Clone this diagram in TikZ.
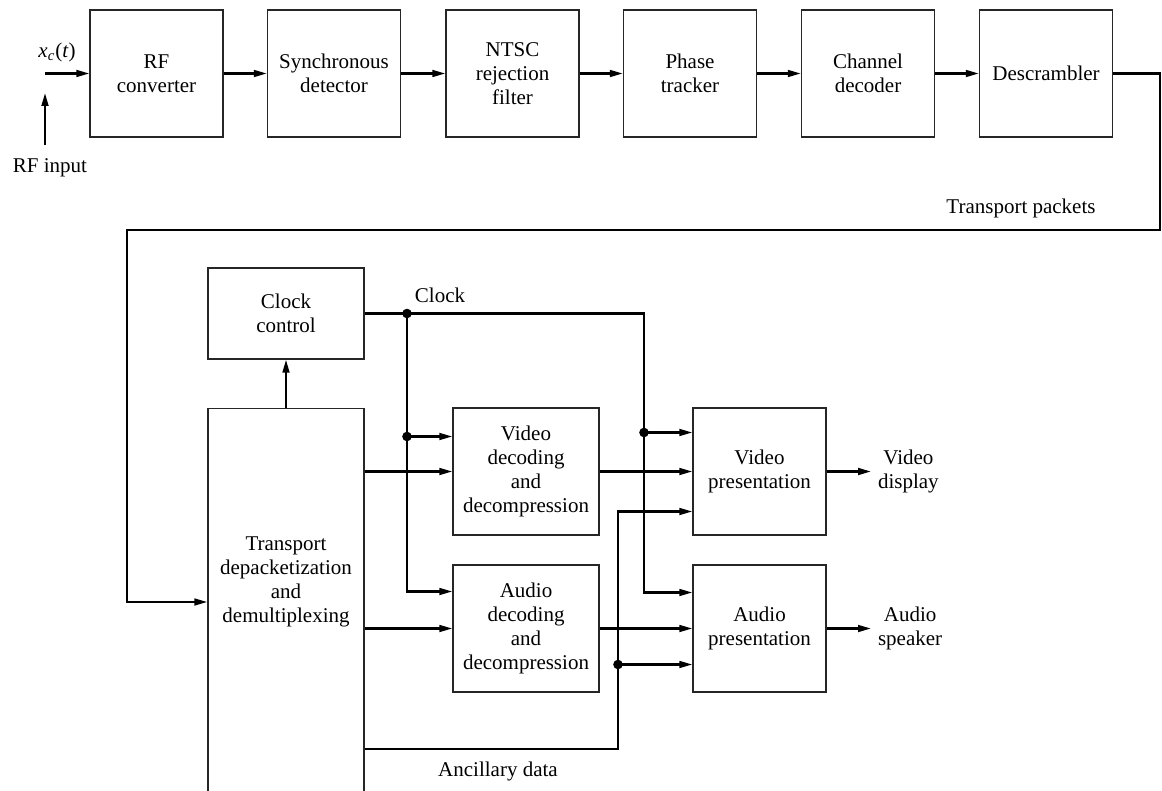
\documentclass[tikz,border=0pt]{standalone}
\usepackage{fontspec}
\setmainfont{Liberation Serif}
\usetikzlibrary{arrows.meta,calc}

\tikzset{
  blk/.style={draw=black!85, line width=0.7pt, minimum width=66.5pt, minimum height=63.5pt, align=center},
  arr/.style={line width=1.1pt, -{Triangle[length=6.5pt,width=3.4pt]}},
  ln/.style={line width=1.1pt},
  lbl/.style={align=center}
}

\begin{document}
\begin{tikzpicture}[x=0.5pt,y=-0.5pt,font=\fontsize{10.5}{12}\selectfont]
  \clip (0,0) rectangle (1162,791);
  % receiver front end
  \foreach \nm/\x/\txt in {rf/156.5/{RF\\converter},sync/334/{Synchronous\\detector},ntsc/512.5/{NTSC\\rejection\\filter},phase/690/{Phase\\tracker},chan/868/{Channel\\decoder},desc/1046/{Descrambler}}
    \node[blk] (\nm) at (\x,73.5) {\txt};
  \foreach \a/\b in {rf/sync,sync/ntsc,ntsc/phase,phase/chan,chan/desc}
    \draw[arr] (\a) -- (\b);
  \coordinate (xin) at (45,73.5);
  \coordinate (rftip) at (45,93);
  \node[lbl] (xc) at (57,52) {\textit{x}\textsubscript{\textit{c}}(\textit{t})};
  \node[lbl] (rfin) at (50,168) {RF input};
  \draw[arr] (xin) -- (rf.west);
  \draw[arr] (rftip |- rfin.north) ++(0,-7) -- (rftip);
  % transport packets
  \coordinate (tp1) at (1160,230);
  \coordinate (tp2) at (127,602);
  \node[lbl] (tplbl) at (1021,208) {Transport packets};
  % back end
  \node[blk, minimum width=78pt, minimum height=45.5pt] (clk) at (286,313.5) {Clock\\control};
  \node[blk, minimum width=78pt, minimum height=250pt, anchor=north] (tdm) at (286,408) {};
  \node[lbl] (tdmtxt) at (286,582) {Transport\\depacketization\\and\\demultiplexing};
  \node[blk, minimum width=73pt] (vdec) at (526,471.5) {Video\\decoding\\and\\decompression};
  \node[blk, minimum width=73pt] (adec) at (526,628.5) {Audio\\decoding\\and\\decompression};
  \node[blk] (vpres) at (759.5,471.5) {Video\\presentation};
  \node[blk] (apres) at (759.5,628.5) {Audio\\presentation};
  \node[lbl, anchor=west] (vdisp) at (871,471.5) {Video\\display};
  \node[lbl, anchor=west] (aspk) at (871,628.5) {Audio\\speaker};
  \node[lbl] (cklbl) at (440,295) {Clock};
  \node[lbl] (anclbl) at (498,771) {Ancillary data};
  \coordinate (ck1) at (407,313.5);
  \coordinate (ck2) at (644,313.5);
  \coordinate (anc) at (618,749);
  \coordinate (vdecck) at ($(vdec.west)+(0,-35)$);
  \coordinate (vpresck) at ($(vpres.west)+(0,-39)$);
  \coordinate (vpresanc) at ($(vpres.west)+(0,40)$);
  \coordinate (adecck) at ($(adec.west)+(0,-37)$);
  \coordinate (apresck) at ($(apres.west)+(0,-36)$);
  \coordinate (apresanc) at ($(apres.west)+(0,36)$);

  \draw[arr] (desc.east) -| (tp1) -| (tp2) -- (tp2 -| tdm.west);
  \draw[arr] (tdm.north) -- (clk.south);
  \draw[arr] (clk.east) -- (ck2) |- (apresck);
  \draw[arr] (ck1) |- (adecck);
  \draw[arr] (vdecck -| ck1) -- (vdecck);
  \draw[arr] (vpresck -| ck2) -- (vpresck);
  \draw[arr] (vdec.west -| tdm.east) -- (vdec.west);
  \draw[arr] (adec.west -| tdm.east) -- (adec.west);
  \draw[arr] (vdec.east) -- (vpres.west);
  \draw[arr] (adec.east) -- (apres.west);
  \draw[arr] (vpres.east) -- (vdisp.west);
  \draw[arr] (apres.east) -- (aspk.west);
  \draw[arr] (anc -| tdm.east) -- (anc) |- (vpresanc);
  \draw[arr] (apresanc -| anc) -- (apresanc);
  \foreach \p in {ck1,vdecck -| ck1,vpresck -| ck2,apresanc -| anc}
    \fill (\p) circle (2.4pt);
\end{tikzpicture}
\end{document}
